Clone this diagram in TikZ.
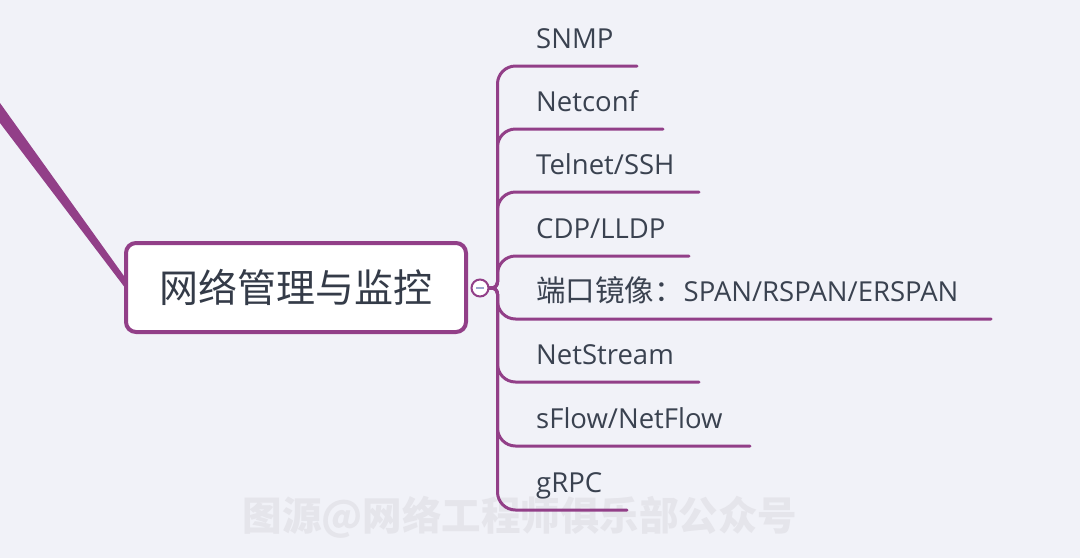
\documentclass[tikz,border=0pt]{standalone}
\usepackage{fontspec}
\setmainfont{Open Sans}
\newfontfamily\cjk{Noto Sans CJK SC}
\begin{document}
\begin{tikzpicture}[x=1pt,y=-1pt,
  branch/.style={draw=mpurple,line width=3pt,line cap=round},
  lbl/.style={anchor=base west,inner sep=0pt,text=mtext,font=\fontsize{27.5}{32}\selectfont}]
\definecolor{bg}{HTML}{F1F2F8}
\definecolor{mpurple}{HTML}{923F88}
\definecolor{mtext}{HTML}{3A4250}
\definecolor{wm}{HTML}{E5E5EB}
\definecolor{minus}{HTML}{9AA6CC}
\fill[bg] (0,0) rectangle (1080,558);
\useasboundingbox (0,0) rectangle (1080,558);
% watermark
\node[anchor=center,inner sep=0pt,text=wm,font=\cjk\bfseries\fontsize{39.5}{42}\selectfont] (wmk) at (520,517) {图源@网络工程师俱乐部公众号};
% thick incoming line
\fill[mpurple] (0,103) -- (129,283) -- (129,293) -- (0,123) -- cycle;
% main node
\node[draw=mpurple,line width=4pt,fill=white,rounded corners=10pt,minimum width=340pt,minimum height=89pt,inner sep=0pt,text=mtext!90!black,font=\cjk\fontsize{39}{42}\selectfont] (main) at (296,287.5) {网络管理与监控};
% collapse circle
\node[circle,draw=mpurple,line width=2pt,fill=white,minimum size=17pt,inner sep=0pt] (col) at (480,288) {};
\draw[minus,line width=1.6pt] ([xshift=-4pt]col.center) -- ([xshift=4pt]col.center);
% branch end coordinates
\coordinate (e1) at (637,66);
\coordinate (e2) at (663,129);
\coordinate (e3) at (699,192);
\coordinate (e4) at (689,256);
\coordinate (e5) at (991,319);
\coordinate (e6) at (699,382);
\coordinate (e7) at (750,446);
\coordinate (e8) at (627,510);
% branches
\foreach \i in {1,...,8}{
  \draw[branch] (col.east) [rounded corners=6pt] -- ([xshift=8pt]col.east) [rounded corners=18pt] -- ([xshift=8pt]col.east |- e\i) -- (e\i);
}
% labels
\node[lbl] (l1) at (536,48) {SNMP};
\node[lbl] (l2) at (536,111) {Netconf};
\node[lbl] (l3) at (536,174) {Telnet/SSH};
\node[lbl] (l4) at (536,238) {CDP/LLDP};
\node[lbl] (l5) at (536,301) {{\cjk\fontsize{29.5}{32}\selectfont 端口镜像：}SPAN/RSPAN/ERSPAN};
\node[lbl] (l6) at (536,364) {NetStream};
\node[lbl] (l7) at (536,428) {sFlow/NetFlow};
\node[lbl] (l8) at (536,492) {gRPC};
\end{tikzpicture}
\end{document}
